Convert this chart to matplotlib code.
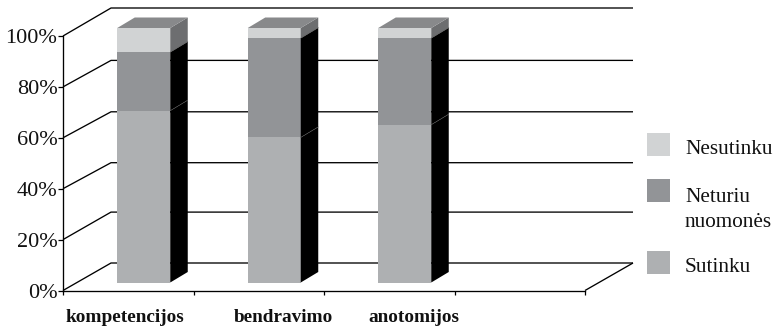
import matplotlib
matplotlib.use('Agg')
import matplotlib.pyplot as plt
from matplotlib.patches import Rectangle

categories = ['kompetencijos', 'bendravimo', 'anotomijos']
sutinku = [67.5, 57, 62]
neturiu = [23, 39, 34]
nesutinku = [9.5, 4, 4]
y_ticks = [0, 20, 40, 60, 80, 100]

plt.rcParams['font.family'] = ['Liberation Serif', 'DejaVu Serif']

W, H = 776, 330
fig = plt.figure(figsize=(W / 100, H / 100), dpi=100)
ax = fig.add_axes([63 / W, (H - 290.5) / H, (585 - 63) / W, 254.5 / H])
ax.set_xlim(-0.5, 3.5)
ax.set_ylim(0, 100)
ax.patch.set_visible(False)

# depth of the back wall and of the bars, in data units
wall_dx = 48 / 130.5
wall_rise = [27.5, 27.5, 26, 26, 26.5, 28]
bar_dx, bar_dy = 17.5 / 130.5, 10.5 / 2.545
shift_x, shift_y = 15.5 / 130.5, 8.0 / 2.545
bar_w = 53 / 130.5

line = dict(color='black', lw=0.95, clip_on=False, zorder=1, solid_capstyle='butt')
for t, rise in zip(y_ticks, wall_rise):
    back = t + rise / 2.545
    ax.plot([-0.5, -0.5 + wall_dx, 3.5 + wall_dx], [t, back, back], **line)
ax.plot([3.5, 3.5 + wall_dx], [0, wall_rise[0] / 2.545], **line)

# front colour, colour of the side face
series = [
    (sutinku, '#aeb0b2', 'black'),
    (neturiu, '#929497', 'black'),
    (nesutinku, '#d1d3d4', '#6d6e70'),
]

bottoms = [0, 0, 0]
for values, color, side in series:
    for i, v in enumerate(values):
        x0 = i + shift_x - bar_w / 2
        x1 = x0 + bar_w
        y0 = bottoms[i] + shift_y
        y1 = y0 + v
        ax.fill([x0, x1, x1, x0], [y0, y0, y1, y1], color=color, lw=0, clip_on=False, zorder=3)
        ax.fill([x1, x1 + bar_dx, x1 + bar_dx, x1],
                [y0, y0 + bar_dy, y1 + bar_dy, y1],
                color=side, lw=0, clip_on=False, zorder=3)
        if y0 > shift_y:
            # faint seam between the black side segments
            ax.plot([x1, x1 + bar_dx], [y0, y0 + bar_dy], color='#555555', lw=0.4,
                    clip_on=False, zorder=4)
        bottoms[i] += v

# top faces
for i, total in enumerate(bottoms):
    x0 = i + shift_x - bar_w / 2
    x1 = x0 + bar_w
    y1 = total + shift_y
    ax.fill([x0, x1, x1 + bar_dx, x0 + bar_dx], [y1, y1, y1 + bar_dy, y1 + bar_dy],
            color='#88898b', lw=0, clip_on=False, zorder=3)

for name in ['top', 'right']:
    ax.spines[name].set_visible(False)
for name in ['left', 'bottom']:
    ax.spines[name].set_linewidth(0.95)
ax.set_yticks(y_ticks)
ax.set_yticklabels([f'{t}%' for t in y_ticks], fontsize=16, color='#111111')
ax.set_xticks([-0.5, 0.5, 1.5, 2.5, 3.5])
ax.set_xticklabels([])
ax.tick_params(axis='y', length=3.5, width=0.9, pad=0.5)
ax.tick_params(axis='x', length=3, width=0.9)

# category labels sit a little off the tick centres
label_x = [125, 283, 414]
for name, px in zip(categories, label_x):
    fig.text(px / W, (H - 318) / H, name, fontsize=13.9, fontweight='bold',
             ha='center', va='center', color='#111111')

# legend
legend_items = [
    ('Nesutinku', '#d1d3d4', 133, 149),
    ('Neturiu\nnuomonės', '#929497', 179, 210),
    ('Sutinku', '#aeb0b2', 251, 268),
]
for text, color, top, text_y in legend_items:
    fig.add_artist(Rectangle((647 / W, (H - top - 23) / H), 23 / W, 23 / H,
                             transform=fig.transFigure, color=color, lw=0))
    fig.text(685 / W, (H - text_y) / H, text, fontsize=15.3, ha='left', va='center',
             linespacing=1.45, color='#111111')

fig.savefig('out.png', dpi=100, facecolor='white')
